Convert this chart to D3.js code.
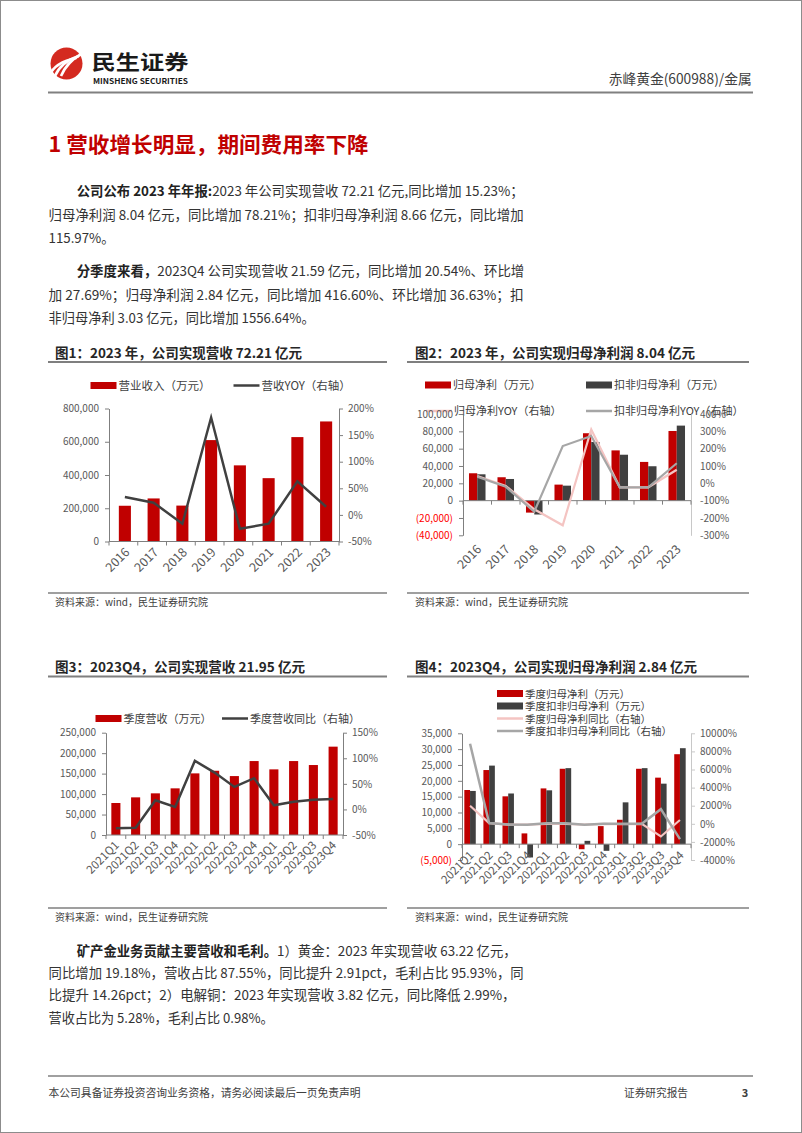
<!DOCTYPE html>
<html>
<head>
<meta charset="utf-8">
<script src="https://cdn.jsdelivr.net/npm/d3@7"></script>
<style>
  body { margin: 0; background: #fff; }
  text { font-family: "Noto Sans CJK SC", "Noto Sans", sans-serif; }
</style>
</head>
<body>
<div id="container"></div>
<script>
/* DATA */
const years = ['2016', '2017', '2018', '2019', '2020', '2021', '2022', '2023'];
const revenue = [215000, 259000, 216000, 610000, 458000, 381000, 628000, 722100];
const revenueYoy = [33.5, 23, -16.6, 183, -26, -16.6, 63, 15.23];

const netProfit = [31600, 27000, -13800, 18500, 77800, 58000, 44700, 80400];
const netProfitDeducted = [30400, 25000, -16000, 17300, 67700, 53000, 39700, 86600];
const netProfitYoy = [42, -15, -150, -242, 311, -23, -23, 78.21];
const deductedYoy = [38, -20, -164, 215, 273, -23, -23, 115.97];

const quarters = ['2021Q1', '2021Q2', '2021Q3', '2021Q4', '2022Q1', '2022Q2', '2022Q3', '2022Q4', '2023Q1', '2023Q2', '2023Q3', '2023Q4'];
const qRevenue = [78200, 92000, 101800, 114000, 150600, 157000, 144000, 180700, 160400, 180700, 171000, 215900];
const qRevenueYoy = [-37, -36, 18, 5, 95, 72, 44, 61, 8, 15, 19, 20.54];
const qNetProfit = [17100, 23400, 15100, 3400, 17600, 23800, -1600, 5700, 7700, 23800, 21000, 28400];
const qNetDeducted = [16800, 24800, 16000, -4200, 17000, 24000, 1050, -2100, 13200, 24000, 19100, 30300];
const qNetYoy = [2000, 80, -100, -100, 0, 0, -100, 0, -50, 0, -1400, 416.6];
const qDeductedYoy = [8840, 80, -80, -100, 50, 50, -100, 0, 0, 0, 1620, -1700];

// tick values
const ticks1L = [0, 200000, 400000, 600000, 800000];
const ticks1R = [-50, 0, 50, 100, 150, 200];
const ticks2L = [-40000, -20000, 0, 20000, 40000, 60000, 80000, 100000];
const ticks2R = [-300, -200, -100, 0, 100, 200, 300, 400];
const ticks3L = [0, 50000, 100000, 150000, 200000, 250000];
const ticks3R = [-50, 0, 50, 100, 150];
const ticks4L = [-5000, 0, 5000, 10000, 15000, 20000, 25000, 30000, 35000];
const ticks4R = [-4000, -2000, 0, 2000, 4000, 6000, 8000, 10000];

/* COLORS */
const RED = '#c00000';
const DARK = '#404040';
const PINK = '#f4c4c2';
const GREY = '#a6a6a6';
const AXIS = '#7f7f7f';
const LABEL = '#595959';

/* PAGE */
const width = 802;
const height = 1133;

const svg = d3.select('#container')
  .append('svg')
  .attr('width', width)
  .attr('height', height);

svg.append('rect')
  .attr('x', 0.5).attr('y', 0.5)
  .attr('width', width - 1).attr('height', height - 1)
  .attr('fill', '#fff').attr('stroke', '#8c8c8c');

// header logo
const logo = svg.append('g');
logo.append('circle').attr('cx', 66.5).attr('cy', 63.5).attr('r', 16).attr('fill', '#d42a20');
[[-9, 2], [-3, 1], [3, 0]].forEach(([o, k]) => {
  logo.append('path')
    .attr('d', `M${58 + o},${76} Q${64 + o},${62} ${80 + o * 0.4},${54 + k * 2}`)
    .attr('fill', 'none').attr('stroke', '#fff').attr('stroke-width', 2.6);
});
svg.append('text').attr('x', 91.5).attr('y', 70).attr('font-size', 20.5).attr('font-weight', 700)
  .attr('fill', '#1a1a1a').attr('textLength', 97).attr('lengthAdjust', 'spacingAndGlyphs').text('民生证券');
svg.append('text').attr('x', 93).attr('y', 83.5).attr('font-size', 7.5).attr('font-weight', 700)
  .attr('fill', '#1a1a1a').attr('textLength', 95).attr('lengthAdjust', 'spacingAndGlyphs').text('MINSHENG SECURITIES');
svg.append('text').attr('x', 608.7).attr('y', 84).attr('font-size', 14).attr('fill', '#404040')
  .attr('textLength', 143).attr('lengthAdjust', 'spacingAndGlyphs').text('赤峰黄金(600988)/金属');
svg.append('line').attr('x1', 48).attr('x2', 753).attr('y1', 92.5).attr('y2', 92.5)
  .attr('stroke', '#808080').attr('stroke-width', 2);

// section title
svg.append('text').attr('x', 48.6).attr('y', 152).attr('font-size', 21).attr('font-weight', 700)
  .attr('fill', RED).attr('textLength', 320).attr('lengthAdjust', 'spacingAndGlyphs')
  .text('1 营收增长明显，期间费用率下降');

// body text
const bodyLines = [
  { x: 76.7, y: 196, len: 447, parts: [['公司公布 2023 年年报:', 1], ['2023 年公司实现营收 72.21 亿元,同比增加 15.23%；', 0]] },
  { x: 48.6, y: 219.5, len: 475, parts: [['归母净利润 8.04 亿元，同比增加 78.21%；扣非归母净利润 8.66 亿元，同比增加', 0]] },
  { x: 48.6, y: 243, len: 66, parts: [['115.97%。', 0]] },
  { x: 76.7, y: 276, len: 447.6, parts: [['分季度来看，', 1], ['2023Q4 公司实现营收 21.59 亿元，同比增加 20.54%、环比增', 0]] },
  { x: 48.6, y: 299.5, len: 475, parts: [['加 27.69%；归母净利润 2.84 亿元，同比增加 416.60%、环比增加 36.63%；扣', 0]] },
  { x: 48.6, y: 323, len: 266, parts: [['非归母净利 3.03 亿元，同比增加 1556.64%。', 0]] },
  { x: 76.7, y: 956, len: 440, parts: [['矿产金业务贡献主要营收和毛利。', 1], ['1）黄金：2023 年实现营收 63.22 亿元，', 0]] },
  { x: 48.6, y: 978, len: 475, parts: [['同比增加 19.18%，营收占比 87.55%，同比提升 2.91pct，毛利占比 95.93%，同', 0]] },
  { x: 48.6, y: 999.5, len: 467, parts: [['比提升 14.26pct；2）电解铜：2023 年实现营收 3.82 亿元，同比降低 2.99%，', 0]] },
  { x: 48.6, y: 1023, len: 225, parts: [['营收占比为 5.28%，毛利占比 0.98%。', 0]] }
];
bodyLines.forEach(l => {
  const t = svg.append('text').attr('x', l.x).attr('y', l.y).attr('font-size', 13.5)
    .attr('fill', '#333').attr('textLength', l.len).attr('lengthAdjust', 'spacingAndGlyphs');
  l.parts.forEach(p => t.append('tspan').attr('font-weight', p[1] ? 700 : 400)
    .attr('fill', p[1] ? '#222' : '#333').text(p[0]));
});

// footer
svg.append('line').attr('x1', 48).attr('x2', 753).attr('y1', 1076).attr('y2', 1076)
  .attr('stroke', '#808080').attr('stroke-width', 1.5);
svg.append('text').attr('x', 48.6).attr('y', 1097).attr('font-size', 11).attr('fill', '#404040')
  .attr('textLength', 312).attr('lengthAdjust', 'spacingAndGlyphs')
  .text('本公司具备证券投资咨询业务资格，请务必阅读最后一页免责声明');
svg.append('text').attr('x', 624).attr('y', 1097).attr('font-size', 11).attr('fill', '#404040')
  .attr('textLength', 64).attr('lengthAdjust', 'spacingAndGlyphs').text('证券研究报告');
svg.append('text').attr('x', 741.7).attr('y', 1097).attr('font-size', 11).attr('font-weight', 700)
  .attr('fill', '#404040').text('3');

/* CHART FRAMES: title, underline, source */
const frames = [
  { x1: 48, x2: 387, tx: 55, ty: 358, uy: 362, sy: 593, title: '图1：2023 年，公司实现营收 72.21 亿元', tl: 247 },
  { x1: 407, x2: 749, tx: 415, ty: 358, uy: 362, sy: 593, title: '图2：2023 年，公司实现归母净利润 8.04 亿元', tl: 280 },
  { x1: 48, x2: 387, tx: 55, ty: 672, uy: 676.5, sy: 908, title: '图3：2023Q4，公司实现营收 21.95 亿元', tl: 250 },
  { x1: 407, x2: 749, tx: 415, ty: 672, uy: 676.5, sy: 908, title: '图4：2023Q4，公司实现归母净利润 2.84 亿元', tl: 282 }
];
frames.forEach(f => {
  svg.append('text').attr('x', f.tx).attr('y', f.ty).attr('font-size', 13.5).attr('font-weight', 700)
    .attr('fill', '#262626').attr('textLength', f.tl).attr('lengthAdjust', 'spacingAndGlyphs').text(f.title);
  svg.append('line').attr('x1', f.x1).attr('x2', f.x2).attr('y1', f.uy).attr('y2', f.uy)
    .attr('stroke', '#7f7f7f').attr('stroke-width', 2);
  svg.append('line').attr('x1', f.x1).attr('x2', f.x2).attr('y1', f.sy).attr('y2', f.sy)
    .attr('stroke', '#7f7f7f').attr('stroke-width', 1.5);
  svg.append('text').attr('x', f.tx).attr('y', f.sy + 13).attr('font-size', 10.5).attr('fill', '#404040')
    .attr('textLength', 153).attr('lengthAdjust', 'spacingAndGlyphs').text('资料来源：wind，民生证券研究院');
});

/* HELPERS */
const fmtNum = d => d < 0 ? `(${d3.format(',')(-d)})` : d3.format(',')(d);
const fmtPct = d => d + '%';

function leftAxis(scale, ticks, x, fs, tickLen) {
  const a = svg.append('g')
    .attr('transform', `translate(${x},0)`)
    .attr('font-size', fs)
    .call(d3.axisLeft(scale).tickValues(ticks).tickFormat(fmtNum).tickSize(tickLen).tickSizeOuter(0).tickPadding(10 - tickLen));
  a.select('.domain').attr('stroke', AXIS);
  a.selectAll('.tick line').attr('stroke', AXIS);
  a.selectAll('.tick text').attr('fill', d => d < 0 ? '#ff0000' : LABEL);
  return a;
}

function rightAxis(scale, ticks, x, fs, tickLen, color) {
  const a = svg.append('g')
    .attr('transform', `translate(${x},0)`)
    .attr('font-size', fs)
    .call(d3.axisRight(scale).tickValues(ticks).tickFormat(fmtPct).tickSize(tickLen).tickSizeOuter(0).tickPadding(9 - tickLen));
  a.select('.domain').attr('stroke', color);
  a.selectAll('.tick line').attr('stroke', color);
  a.selectAll('.tick text').attr('fill', LABEL);
  return a;
}

function bottomAxis(x, y0) {
  const [r0, r1] = x.range();
  const bounds = x.domain().map(d => x(d)).concat([r1]);
  const g = svg.append('g');
  g.append('line').attr('x1', r0).attr('x2', r1).attr('y1', y0).attr('y2', y0).attr('stroke', AXIS);
  g.selectAll('line.tk').data(bounds).join('line').attr('class', 'tk')
    .attr('x1', d => d).attr('x2', d => d).attr('y1', y0).attr('y2', y0 + 4).attr('stroke', AXIS);
}

function xLabels(x, y0, dx, fs) {
  svg.append('g').selectAll('text').data(x.domain()).join('text')
    .attr('transform', d => `translate(${x(d) + x.bandwidth() / 2 + dx},${y0}) rotate(-45)`)
    .attr('text-anchor', 'end')
    .attr('font-size', fs)
    .attr('fill', LABEL)
    .text(d => d);
}

function legendItem(x, y, type, color, label, fs) {
  if (type === 'bar') {
    svg.append('rect').attr('x', x).attr('y', y - 3.5).attr('width', 26).attr('height', 7).attr('fill', color);
  } else {
    svg.append('line').attr('x1', x).attr('x2', x + 26).attr('y1', y).attr('y2', y)
      .attr('stroke', color).attr('stroke-width', 2.5);
  }
  svg.append('text').attr('x', x + 28).attr('y', y + 4).attr('font-size', fs).attr('fill', DARK).text(label);
}

/* CHART 1 */
{
  const xScale = d3.scaleBand().domain(years).range([109, 339]);
  const yScale = d3.scaleLinear().domain([0, 800000]).range([541.5, 408.5]);
  const yRight = d3.scaleLinear().domain([-50, 200]).range([541.5, 408.5]);
  const bw = xScale.bandwidth() * 0.42;

  svg.append('g').selectAll('rect').data(revenue).join('rect')
    .attr('x', (d, i) => xScale(years[i]) + (xScale.bandwidth() - bw) / 2 + 1.5)
    .attr('y', d => yScale(d))
    .attr('width', bw)
    .attr('height', d => yScale(0) - yScale(d))
    .attr('fill', RED);

  leftAxis(yScale, ticks1L, 109, 13, 4);
  rightAxis(yRight, ticks1R, 339, 13, 4, AXIS);
  bottomAxis(xScale, 541.5);
  xLabels(xScale, 553, 7, 12.5);

  const line = d3.line().x((d, i) => xScale(years[i]) + xScale.bandwidth() / 2 + 1.5).y(d => yRight(d));
  svg.append('path').datum(revenueYoy).attr('d', line)
    .attr('fill', 'none').attr('stroke', DARK).attr('stroke-width', 2.5);

  legendItem(90.5, 385.5, 'bar', RED, '营业收入（万元）', 11.5);
  legendItem(233.5, 385.5, 'line', DARK, '营收YOY（右轴）', 11.5);
}

/* CHART 2 */
{
  const xScale = d3.scaleBand().domain(years).range([463, 691]);
  const yScale = d3.scaleLinear().domain([-40000, 100000]).range([535.3, 414]);
  const yRight = d3.scaleLinear().domain([-300, 400]).range([535.3, 414]);
  const bw = xScale.bandwidth() * 0.29;
  const cx = d => xScale(d) + xScale.bandwidth() / 2;

  legendItem(425, 385, 'bar', RED, '归母净利（万元）', 11);
  legendItem(586, 385, 'bar', DARK, '扣非归母净利（万元）', 11);
  legendItem(426, 411, 'line', PINK, '归母净利YOY（右轴）', 11);
  legendItem(586, 411, 'line', GREY, '扣非归母净利YOY（右轴）', 11);

  svg.append('g').selectAll('rect').data(netProfit).join('rect')
    .attr('x', (d, i) => cx(years[i]) - bw)
    .attr('y', d => yScale(Math.max(0, d)))
    .attr('width', bw)
    .attr('height', d => Math.abs(yScale(d) - yScale(0)))
    .attr('fill', RED);
  svg.append('g').selectAll('rect').data(netProfitDeducted).join('rect')
    .attr('x', (d, i) => cx(years[i]))
    .attr('y', d => yScale(Math.max(0, d)))
    .attr('width', bw)
    .attr('height', d => Math.abs(yScale(d) - yScale(0)))
    .attr('fill', DARK);

  leftAxis(yScale, ticks2L, 463, 12, 4);
  rightAxis(yRight, ticks2R, 691, 12.5, 0, '#c8c8c8');
  bottomAxis(xScale, yScale(0));
  xLabels(xScale, 550, 5, 12.5);

  const line = d3.line().x((d, i) => cx(years[i])).y(d => yRight(d));
  svg.append('path').datum(netProfitYoy).attr('d', line)
    .attr('fill', 'none').attr('stroke', PINK).attr('stroke-width', 2.2);
  svg.append('path').datum(deductedYoy).attr('d', line)
    .attr('fill', 'none').attr('stroke', GREY).attr('stroke-width', 2.2);
}

/* CHART 3 */
{
  const xScale = d3.scaleBand().domain(quarters).range([106, 343]);
  const yScale = d3.scaleLinear().domain([0, 250000]).range([835, 732.7]);
  const yRight = d3.scaleLinear().domain([-50, 150]).range([835, 732.7]);
  const bw = xScale.bandwidth() * 0.46;
  const cx = d => xScale(d) + xScale.bandwidth() / 2;

  svg.append('g').selectAll('rect').data(qRevenue).join('rect')
    .attr('x', (d, i) => cx(quarters[i]) - bw / 2)
    .attr('y', d => yScale(d))
    .attr('width', bw)
    .attr('height', d => yScale(0) - yScale(d))
    .attr('fill', RED);

  leftAxis(yScale, ticks3L, 106, 12, 4);
  rightAxis(yRight, ticks3R, 343, 12, 4, AXIS);
  bottomAxis(xScale, 835);
  xLabels(xScale, 846, 4, 11.5);

  const line = d3.line().x((d, i) => cx(quarters[i])).y(d => yRight(d));
  svg.append('path').datum(qRevenueYoy).attr('d', line)
    .attr('fill', 'none').attr('stroke', DARK).attr('stroke-width', 2.5);

  legendItem(95.5, 718.5, 'bar', RED, '季度营收（万元）', 11);
  legendItem(222, 718.5, 'line', DARK, '季度营收同比（右轴）', 11);
}

/* CHART 4 */
{
  const xScale = d3.scaleBand().domain(quarters).range([462, 691]);
  const yScale = d3.scaleLinear().domain([-5000, 35000]).range([860, 733.3]);
  const yRight = d3.scaleLinear().domain([-4000, 10000]).range([860, 733.3]);
  const bw = xScale.bandwidth() * 0.3;
  const cx = d => xScale(d) + xScale.bandwidth() / 2 - 1.5;

  legendItem(497, 693.5, 'bar', RED, '季度归母净利（万元）', 10.5);
  legendItem(497, 706, 'bar', DARK, '季度扣非归母净利（万元）', 10.5);
  legendItem(497, 718.5, 'line', PINK, '季度归母净利同比（右轴）', 10.5);
  legendItem(497, 731, 'line', GREY, '季度扣非归母净利同比（右轴）', 10.5);

  svg.append('g').selectAll('rect').data(qNetProfit).join('rect')
    .attr('x', (d, i) => cx(quarters[i]) - bw)
    .attr('y', d => yScale(Math.max(0, d)))
    .attr('width', bw)
    .attr('height', d => Math.abs(yScale(d) - yScale(0)))
    .attr('fill', RED);
  svg.append('g').selectAll('rect').data(qNetDeducted).join('rect')
    .attr('x', (d, i) => cx(quarters[i]))
    .attr('y', d => yScale(Math.max(0, d)))
    .attr('width', bw)
    .attr('height', d => Math.abs(yScale(d) - yScale(0)))
    .attr('fill', DARK);

  leftAxis(yScale, ticks4L, 462, 12, 4);
  rightAxis(yRight, ticks4R, 691, 12, 4, '#c8c8c8');
  bottomAxis(xScale, yScale(0));
  xLabels(xScale, 856, 3, 11.5);

  const line = d3.line().x((d, i) => cx(quarters[i])).y(d => yRight(d));
  svg.append('path').datum(qNetYoy).attr('d', line)
    .attr('fill', 'none').attr('stroke', PINK).attr('stroke-width', 2.2);
  svg.append('path').datum(qDeductedYoy).attr('d', line)
    .attr('fill', 'none').attr('stroke', GREY).attr('stroke-width', 2.5);
}
</script>
</body>
</html>
